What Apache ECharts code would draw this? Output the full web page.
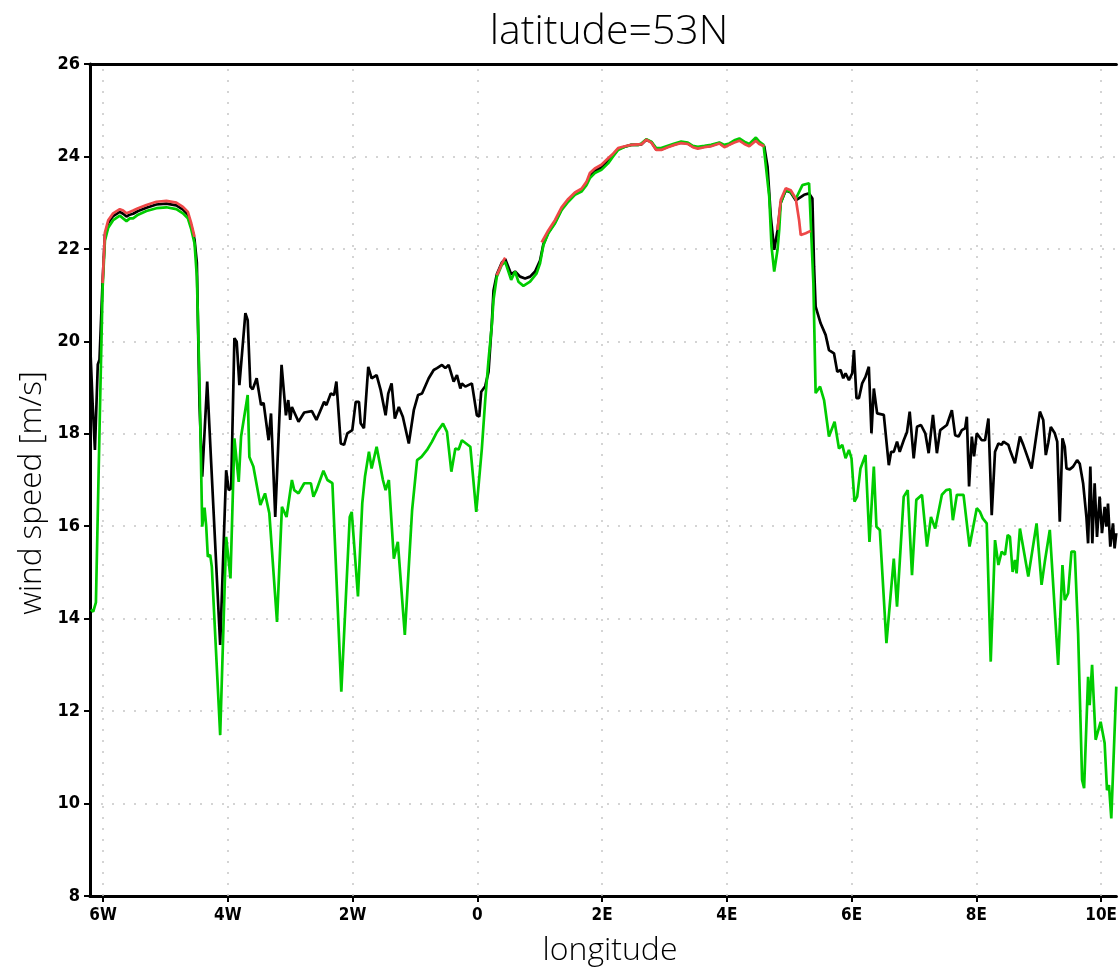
<!DOCTYPE html>
<html>
<head>
<meta charset="utf-8">
<title>latitude=53N</title>
<script src="https://cdn.jsdelivr.net/npm/echarts@6/dist/echarts.min.js"></script>
<style>
  html, body { margin: 0; padding: 0; background: #fff; }
  #chart { width: 1120px; height: 970px; }
</style>
</head>
<body>
<div id="chart"></div>
<script>
// Wind speed along latitude 53N, three model runs.

// Longitude tick positions (degrees east; negative = west)
const lonTicks = [-6, -4, -2, 0, 2, 4, 6, 8, 10];
const windTicks = [8, 10, 12, 14, 16, 18, 20, 22, 24, 26];

// Black run
const blackLon = [
  -6.2, -6.168, -6.131, -6.085, -6.058, -6.008, -5.971, -5.918, -5.839, -5.732,
  -5.679, -5.625, -5.572, -5.519, -5.439, -5.305, -5.145, -4.986, -4.826, -4.720,
  -4.641, -4.586, -4.534, -4.497, -4.454, -4.411, -4.331, -4.267, -4.123, -4.027,
  -3.986, -3.947, -3.895, -3.858, -3.815, -3.719, -3.682, -3.639, -3.602, -3.538,
  -3.468, -3.427, -3.347, -3.308, -3.240, -3.139, -3.069, -3.032, -3.000, -2.973,
  -2.867, -2.776, -2.653, -2.580, -2.457, -2.420, -2.350, -2.297, -2.260, -2.190,
  -2.137, -2.085, -2.005, -1.950, -1.898, -1.871, -1.818, -1.749, -1.695, -1.615,
  -1.551, -1.471, -1.429, -1.375, -1.323, -1.259, -1.195, -1.099, -1.019, -0.950,
  -0.887, -0.780, -0.700, -0.647, -0.567, -0.513, -0.460, -0.380, -0.327, -0.273,
  -0.248, -0.193, -0.088, -0.008, 0.030, 0.062, 0.126, 0.179, 0.232, 0.259,
  0.312, 0.391, 0.446, 0.542, 0.605, 0.685, 0.765, 0.845, 0.925, 1.005,
  1.058, 1.137, 1.244, 1.350, 1.457, 1.564, 1.669, 1.749, 1.804, 1.883,
  1.989, 2.096, 2.176, 2.256, 2.363, 2.468, 2.575, 2.628, 2.708, 2.788,
  2.867, 2.947, 3.054, 3.161, 3.267, 3.374, 3.454, 3.534, 3.641, 3.746,
  3.880, 3.960, 4.040, 4.120, 4.200, 4.280, 4.359, 4.465, 4.519, 4.599,
  4.652, 4.704, 4.759, 4.812, 4.864, 4.944, 5.024, 5.104, 5.131, 5.238,
  5.318, 5.371, 5.398, 5.423, 5.503, 5.583, 5.637, 5.717, 5.770, 5.823,
  5.866, 5.903, 5.957, 6.010, 6.037, 6.078, 6.117, 6.169, 6.222, 6.276,
  6.318, 6.356, 6.409, 6.516, 6.596, 6.633, 6.676, 6.728, 6.771, 6.835,
  6.888, 6.931, 6.995, 7.048, 7.112, 7.181, 7.235, 7.304, 7.367, 7.420,
  7.527, 7.607, 7.660, 7.714, 7.767, 7.820, 7.847, 7.883, 7.927, 7.963,
  8.006, 8.086, 8.139, 8.193, 8.246, 8.299, 8.353, 8.406, 8.433, 8.513,
  8.538, 8.618, 8.698, 8.752, 8.885, 8.965, 9.018, 9.072, 9.113, 9.152,
  9.193, 9.257, 9.296, 9.337, 9.380, 9.417, 9.444, 9.497, 9.551, 9.615,
  9.657, 9.711, 9.764, 9.791, 9.827, 9.859, 9.896, 9.934, 9.976, 10.014,
  10.056, 10.083, 10.110, 10.147, 10.190, 10.216, 10.243
];
const blackSpeed = [
  19.7, 18.66, 17.65, 19.5, 19.6, 21.3, 22.3, 22.56, 22.71, 22.8,
  22.76, 22.7, 22.74, 22.76, 22.82, 22.89, 22.96, 22.98, 22.94, 22.85,
  22.74, 22.5, 22.2, 21.7, 18.6, 17.07, 19.13, 17.36, 13.43, 17.21,
  16.78, 16.82, 20.07, 19.99, 19.05, 20.61, 20.46, 19.02, 18.96, 19.2,
  18.62, 18.67, 17.86, 18.44, 16.2, 19.49, 18.4, 18.73, 18.3, 18.58,
  18.26, 18.46, 18.49, 18.3, 18.69, 18.62, 18.87, 18.84, 19.13, 17.79,
  17.76, 18.01, 18.08, 18.69, 18.69, 18.23, 18.12, 19.45, 19.2, 19.27,
  18.95, 18.4, 18.87, 19.09, 18.33, 18.58, 18.37, 17.79, 18.51, 18.84,
  18.87, 19.2, 19.38, 19.42, 19.49, 19.42, 19.49, 19.13, 19.27, 18.98,
  19.09, 19.02, 19.09, 18.4, 18.37, 18.91, 19.03, 19.34, 20.4, 21.1,
  21.45, 21.7, 21.78, 21.45, 21.51, 21.4, 21.36, 21.4, 21.51, 21.75,
  22.1, 22.35, 22.57, 22.86, 23.05, 23.19, 23.27, 23.41, 23.58, 23.69,
  23.76, 23.9, 24.03, 24.16, 24.21, 24.25, 24.25, 24.26, 24.36, 24.31,
  24.15, 24.15, 24.21, 24.26, 24.3, 24.28, 24.21, 24.19, 24.21, 24.23,
  24.29, 24.22, 24.26, 24.32, 24.36, 24.29, 24.24, 24.37, 24.29, 24.22,
  23.78, 22.7, 21.98, 22.4, 23.0, 23.27, 23.22, 23.05, 23.02, 23.17,
  23.2, 23.09, 21.61, 20.75, 20.39, 20.14, 19.81, 19.74, 19.34, 19.38,
  19.2, 19.31, 19.16, 19.31, 19.81, 18.77, 18.77, 19.09, 19.23, 19.45,
  18.01, 18.98, 18.44, 18.41, 17.32, 17.61, 17.61, 17.83, 17.61, 17.86,
  18.04, 18.48, 17.47, 18.15, 18.19, 18.01, 17.58, 18.41, 17.58, 18.08,
  18.19, 18.51, 17.97, 17.94, 18.08, 18.12, 18.37, 16.86, 17.94, 17.51,
  18.01, 17.86, 17.86, 18.33, 16.24, 17.61, 17.79, 17.76, 17.83, 17.76,
  17.65, 17.36, 17.94, 17.76, 17.25, 18.0, 18.48, 18.3, 17.54, 17.8,
  18.15, 18.01, 17.83, 16.1, 17.9, 17.72, 17.25, 17.23, 17.29, 17.43,
  17.35, 16.93, 16.2, 15.63, 17.29, 15.63, 16.93, 15.77, 16.64, 15.85,
  16.42, 15.99, 16.49, 15.56, 16.06, 15.52, 15.85
];

// Green run
const greenLon = [
  -6.195, -6.158, -6.115, -6.051, -6.008, -5.971, -5.918, -5.839, -5.732, -5.679,
  -5.625, -5.572, -5.519, -5.439, -5.305, -5.145, -4.986, -4.826, -4.720, -4.641,
  -4.586, -4.534, -4.497, -4.454, -4.411, -4.374, -4.347, -4.321, -4.283, -4.257,
  -4.123, -4.027, -3.958, -3.895, -3.826, -3.788, -3.682, -3.655, -3.591, -3.479,
  -3.404, -3.335, -3.212, -3.133, -3.059, -2.973, -2.936, -2.867, -2.776, -2.669,
  -2.628, -2.580, -2.468, -2.404, -2.324, -2.181, -2.046, -2.014, -1.914, -1.845,
  -1.802, -1.738, -1.695, -1.615, -1.514, -1.471, -1.419, -1.339, -1.275, -1.163,
  -1.046, -0.966, -0.896, -0.807, -0.727, -0.647, -0.551, -0.487, -0.417, -0.353,
  -0.300, -0.248, -0.113, -0.018, 0.072, 0.126, 0.179, 0.232, 0.259, 0.312,
  0.391, 0.446, 0.542, 0.605, 0.658, 0.738, 0.845, 0.950, 1.005, 1.058,
  1.137, 1.244, 1.350, 1.457, 1.564, 1.669, 1.749, 1.804, 1.883, 1.989,
  2.096, 2.176, 2.256, 2.363, 2.468, 2.575, 2.628, 2.708, 2.788, 2.867,
  2.947, 3.054, 3.161, 3.267, 3.374, 3.454, 3.534, 3.641, 3.746, 3.880,
  3.960, 4.040, 4.120, 4.200, 4.280, 4.359, 4.465, 4.519, 4.588, 4.679,
  4.716, 4.759, 4.812, 4.839, 4.864, 4.944, 5.024, 5.104, 5.131, 5.211,
  5.318, 5.343, 5.387, 5.423, 5.494, 5.558, 5.637, 5.727, 5.797, 5.850,
  5.903, 5.957, 5.998, 6.046, 6.089, 6.142, 6.222, 6.286, 6.356, 6.398,
  6.452, 6.558, 6.676, 6.728, 6.835, 6.899, 6.968, 7.037, 7.128, 7.208,
  7.272, 7.340, 7.447, 7.516, 7.580, 7.623, 7.687, 7.794, 7.890, 8.006,
  8.059, 8.102, 8.166, 8.230, 8.299, 8.353, 8.406, 8.459, 8.502, 8.538,
  8.581, 8.618, 8.645, 8.698, 8.832, 8.965, 9.045, 9.097, 9.177, 9.311,
  9.380, 9.417, 9.471, 9.524, 9.577, 9.631, 9.695, 9.727, 9.791, 9.816,
  9.855, 9.912, 9.992, 10.056, 10.094, 10.126, 10.163, 10.243
];
const greenSpeed = [
  14.2, 14.15, 14.35, 18.5, 21.15, 22.18, 22.46, 22.62, 22.72, 22.66,
  22.6, 22.66, 22.66, 22.74, 22.82, 22.88, 22.9, 22.86, 22.77, 22.66,
  22.42, 22.12, 21.4, 19.1, 15.99, 16.4, 16.0, 15.34, 15.38, 15.12,
  11.48, 15.77, 14.87, 17.9, 16.96, 17.94, 18.84, 17.5, 17.29, 16.46,
  16.71, 16.28, 13.93, 16.42, 16.2, 17.0, 16.78, 16.71, 16.93, 16.93,
  16.64, 16.78, 17.2, 17.0, 16.93, 12.42, 16.2, 16.31, 14.48, 16.5,
  17.07, 17.61, 17.25, 17.72, 17.0, 16.78, 17.0, 15.3, 15.66, 13.65,
  16.35, 17.43, 17.5, 17.65, 17.83, 18.04, 18.22, 18.04, 17.18, 17.68,
  17.66, 17.86, 17.72, 16.31, 17.68, 18.73, 19.6, 20.35, 20.9, 21.4,
  21.65, 21.72, 21.33, 21.51, 21.29, 21.2, 21.29, 21.47, 21.69, 22.08,
  22.34, 22.55, 22.84, 23.02, 23.17, 23.24, 23.38, 23.53, 23.64, 23.71,
  23.85, 24.0, 24.14, 24.21, 24.25, 24.25, 24.28, 24.37, 24.32, 24.18,
  24.18, 24.23, 24.28, 24.32, 24.3, 24.23, 24.21, 24.23, 24.25, 24.3,
  24.25, 24.28, 24.35, 24.39, 24.32, 24.27, 24.41, 24.32, 24.25, 23.13,
  22.05, 21.51, 21.98, 22.41, 23.0, 23.28, 23.23, 23.08, 23.06, 23.38,
  23.42, 23.42, 21.26, 18.88, 19.02, 18.73, 17.94, 18.26, 17.68, 17.76,
  17.47, 17.65, 17.47, 16.53, 16.64, 17.25, 17.54, 15.66, 17.29, 15.99,
  15.92, 13.47, 15.3, 14.26, 16.64, 16.78, 14.94, 16.57, 16.68, 15.56,
  16.2, 15.95, 16.68, 16.78, 16.8, 16.13, 16.68, 16.68, 15.56, 16.39,
  16.31, 16.17, 16.06, 13.07, 15.7, 15.16, 15.45, 15.38, 15.81, 15.77,
  15.01, 15.27, 14.98, 15.95, 14.91, 16.06, 14.73, 15.23, 15.92, 13.0,
  15.16, 14.4, 14.55, 15.45, 15.45, 13.68, 10.51, 10.33, 12.74, 12.13,
  13.0, 11.38, 11.77, 11.31, 10.29, 10.4, 9.68, 12.53
];

// Red run: only defined on four stretches, gaps break the line
const redLon = [
  [-6.008, -5.971, -5.918, -5.839, -5.732, -5.679, -5.625, -5.572, -5.519, -5.439,
   -5.305, -5.145, -4.986, -4.826, -4.720, -4.641, -4.586, -4.534],
  [0.312, 0.391, 0.446],
  [1.030, 1.137, 1.244, 1.350, 1.457, 1.564, 1.669, 1.749, 1.804, 1.883,
   1.989, 2.096, 2.176, 2.256, 2.363, 2.468, 2.575, 2.628, 2.708, 2.788,
   2.867, 2.947, 3.054, 3.161, 3.267, 3.374, 3.454, 3.534, 3.641, 3.746,
   3.880, 3.960, 4.040, 4.120, 4.200, 4.280, 4.359, 4.465, 4.519, 4.599],
  [4.812, 4.864, 4.944, 5.024, 5.104, 5.158, 5.184, 5.264, 5.343]
];
const redSpeed = [
  [21.26, 22.35, 22.62, 22.77, 22.86, 22.83, 22.77, 22.8, 22.83, 22.88,
   22.95, 23.02, 23.04, 23.0, 22.91, 22.8, 22.55, 22.26],
  [21.43, 21.68, 21.81],
  [22.14, 22.4, 22.62, 22.9, 23.08, 23.22, 23.3, 23.45, 23.64, 23.74,
   23.82, 23.96, 24.06, 24.18, 24.22, 24.25, 24.26, 24.26, 24.36, 24.3,
   24.14, 24.14, 24.2, 24.25, 24.29, 24.27, 24.2, 24.17, 24.2, 24.22,
   24.28, 24.2, 24.25, 24.3, 24.34, 24.27, 24.22, 24.34, 24.27, 24.22],
  [22.41, 23.06, 23.31, 23.27, 23.09, 22.62, 22.3, 22.34, 22.39]
];

function pairs(xs, ys) {
  return xs.map((x, i) => [x, ys[i]]);
}
function segmented(xsList, ysList) {
  const out = [];
  xsList.forEach((xs, k) => {
    if (k > 0) out.push([xs[0] - 0.001, null]);
    xs.forEach((x, i) => out.push([x, ysList[k][i]]));
  });
  return out;
}
function lonLabel(v) {
  const r = Math.round(v);
  if (r === 0) return '0';
  return r < 0 ? (-r) + 'W' : r + 'E';
}

const tickFont = "'Liberation Sans Narrow', 'DejaVu Sans Condensed', 'DejaVu Sans', sans-serif";
const nameFont = "'Open Sans', Lato, 'Noto Sans', sans-serif";
const dotted = { type: [2, 9], color: '#c6c6c6', width: 1.5 };

const chart = echarts.init(document.getElementById('chart'), null, { renderer: 'canvas' });
chart.setOption({
  backgroundColor: '#ffffff',
  animation: false,
  grid: { left: 90, right: 0, top: 64, bottom: 74, containLabel: false },
  xAxis: [
    {
      type: 'value', position: 'bottom', min: -6.21, max: 10.245,
      axisLine: { show: true, onZero: false, lineStyle: { color: '#000', width: 3 } },
      axisTick: { show: true, customValues: lonTicks, length: 6, lineStyle: { color: '#000', width: 2 } },
      axisLabel: { customValues: lonTicks, formatter: lonLabel, color: '#000',
                   fontFamily: tickFont, fontWeight: 'bold', fontSize: 17, margin: 11 },
      splitLine: { show: false }
    },
    {
      type: 'value', position: 'top', min: -6.21, max: 10.245,
      axisLine: { show: true, onZero: false, lineStyle: { color: '#000', width: 3 } },
      axisTick: { show: false }, axisLabel: { show: false }, splitLine: { show: false }
    }
  ],
  yAxis: {
    type: 'value', min: 8, max: 26, interval: 2,
    axisLine: { show: true, onZero: false, lineStyle: { color: '#000', width: 3 } },
    axisTick: { show: true, length: 6, lineStyle: { color: '#000', width: 2 } },
    axisLabel: { color: '#000', fontFamily: tickFont, fontWeight: 'bold', fontSize: 18, margin: 10,
                 formatter: v => (windTicks.indexOf(v) >= 0 ? String(v) : '') },
    splitLine: { show: true, lineStyle: dotted }
  },
  graphic: [
    { type: 'text', x: 609, y: 32, style: { text: 'latitude=53N', fill: '#000',
      font: "300 41px " + nameFont, textAlign: 'center', textVerticalAlign: 'middle' } },
    { type: 'text', x: 610, y: 951, style: { text: 'longitude', fill: '#000',
      font: "300 32px " + nameFont, textAlign: 'center', textVerticalAlign: 'middle' } },
    { type: 'text', x: 32, y: 493, rotation: Math.PI / 2, style: { text: 'wind speed [m/s]', fill: '#000',
      font: "300 31.5px " + nameFont, textAlign: 'center', textVerticalAlign: 'middle' } }
  ],
  series: [
    { name: 'black', type: 'line', xAxisIndex: 0, data: pairs(blackLon, blackSpeed),
      showSymbol: false, symbol: 'none', lineStyle: { color: '#000000', width: 2.7 }, z: 3,
      // vertical dotted guides at each labelled longitude
      markLine: { silent: true, symbol: ['none', 'none'], z: 1, animation: false,
                  label: { show: false }, emphasis: { disabled: true },
                  lineStyle: dotted, data: lonTicks.map(v => ({ xAxis: v })) } },
    { name: 'green', type: 'line', xAxisIndex: 0, data: pairs(greenLon, greenSpeed),
      showSymbol: false, symbol: 'none', lineStyle: { color: '#00cc00', width: 2.7 }, z: 4 },
    { name: 'red', type: 'line', xAxisIndex: 0, data: segmented(redLon, redSpeed), connectNulls: false,
      showSymbol: false, symbol: 'none', lineStyle: { color: '#ee4848', width: 2.7 }, z: 5 }
  ]
});
</script>
</body>
</html>
